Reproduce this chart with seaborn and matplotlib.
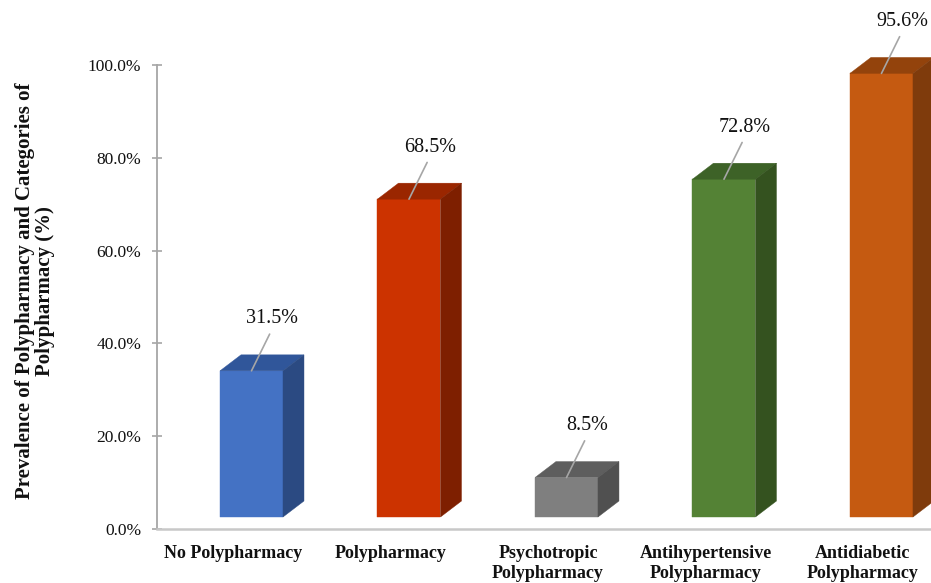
import numpy as np
import matplotlib
matplotlib.use("Agg")
import matplotlib.pyplot as plt
import matplotlib.transforms as mtransforms
from matplotlib.patches import Polygon
from matplotlib.ticker import PercentFormatter
import seaborn as sns

categories = ["No Polypharmacy", "Polypharmacy", "Psychotropic\nPolypharmacy",
              "Antihypertensive\nPolypharmacy", "Antidiabetic\nPolypharmacy"]
values = [31.5, 68.5, 8.5, 72.8, 95.6]
front_colors = ["#4472C4", "#CC3300", "#7F7F7F", "#548235", "#C55A11"]
top_colors = ["#30569A", "#9A2600", "#5E5E5E", "#3D6227", "#93430C"]
side_colors = ["#2B4A82", "#7E1F00", "#505050", "#34521F", "#7F3B0C"]

sns.set_style("white")
plt.rcParams["font.family"] = ["Liberation Serif", "DejaVu Serif"]

fig = plt.figure(figsize=(9.31, 5.83), dpi=100)
ax = fig.add_axes([157 / 931, 54 / 583, 774 / 931, 464 / 583])

sns.barplot(x=categories, y=values, hue=categories, palette=front_colors,
            saturation=1, width=0.4, legend=False, ax=ax)

ax.set_xlim(-0.4825, 4.432)
ax.set_ylim(0, 100)
ax.yaxis.set_major_locator(plt.MultipleLocator(20))
ax.yaxis.set_major_formatter(PercentFormatter(decimals=1))

# pseudo 3d: front face shifted, depth drawn behind
front_t = mtransforms.offset_copy(ax.transData, fig=fig, x=18.5, y=12, units="dots")
dx, dy = 21, 16
inv = ax.transData.inverted()

for i, p in enumerate(ax.patches):
    p.set_transform(front_t)
    p.set_clip_on(False)
    p.set_edgecolor(front_colors[i])
    p.set_linewidth(0.3)
    x0, x1 = p.get_x(), p.get_x() + p.get_width()
    y0, y1 = p.get_y(), p.get_y() + p.get_height()
    fl = front_t.transform([(x0, y1), (x1, y1), (x1, y0)])
    tl, tr, br = fl
    top = [tl, tr, tr + (dx, dy), tl + (dx, dy)]
    side = [br, tr, tr + (dx, dy), br + (dx, dy)]
    for pts, col in ((top, top_colors[i]), (side, side_colors[i])):
        ax.add_patch(Polygon(inv.transform(pts), closed=True, facecolor=col,
                             edgecolor=col, linewidth=0.3, clip_on=False))
    ax.annotate(f"{values[i]:.1f}%", xy=((x0 + x1) / 2, y1), xycoords=front_t,
                xytext=(21, 52), textcoords="offset pixels", color="#111111",
                ha="center", va="center", fontsize=14.5, annotation_clip=False,
                arrowprops=dict(arrowstyle="-", color="#a6a6a6", lw=1.2,
                                relpos=(0.5, 0), shrinkA=2, shrinkB=0))

sns.despine(ax=ax, top=True, right=True)
ax.spines["left"].set_color("#a6a6a6")
ax.spines["left"].set_linewidth(1.3)
ax.spines["bottom"].set_color("#c8c8c8")
ax.spines["bottom"].set_linewidth(1.8)

ax.tick_params(axis="y", left=True, direction="inout", length=7, width=1.2,
               color="#a6a6a6", labelsize=12.5, pad=8, labelcolor="#111111")
ax.tick_params(axis="x", bottom=False, labelsize=13, pad=8, labelcolor="#111111")
for lab in ax.get_xticklabels():
    lab.set_fontweight("bold")
    lab.set_linespacing(1.25)
    lab.set_va("top")

ax.set_xlabel("")
ax.set_ylabel("Prevalence of Polypharmacy and Categories of\nPolypharmacy (%)",
              fontsize=15, fontweight="bold", linespacing=1.0, color="#111111",
              ha="center", va="center")
ax.yaxis.set_label_coords(-0.158, 0.513)

fig.savefig("out.png", dpi=100)
